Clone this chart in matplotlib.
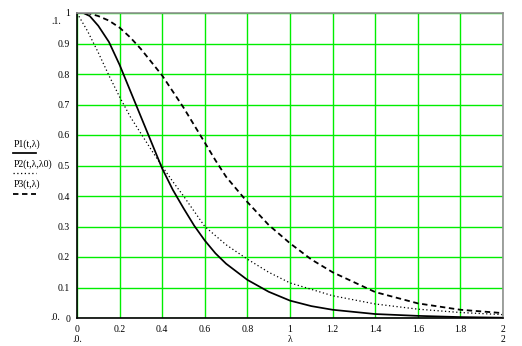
import matplotlib
matplotlib.use("Agg")
import matplotlib.pyplot as plt
from matplotlib.lines import Line2D

# ---- data ----
lam1 = [0, 0.03, 0.06, 0.1, 0.15, 0.2, 0.25, 0.3, 0.35, 0.4, 0.45, 0.5, 0.55, 0.6, 0.65,
        0.7, 0.8, 0.9, 1.0, 1.1, 1.2, 1.4, 1.6, 1.8, 2.0]
p1 = [1.0, 1.0, 0.99, 0.958, 0.905, 0.83, 0.745, 0.66, 0.575, 0.49, 0.42, 0.36, 0.303, 0.254, 0.212,
      0.178, 0.125, 0.086, 0.057, 0.039, 0.027, 0.013, 0.007, 0.003, 0.001]

lam2 = [0, 0.05, 0.1, 0.15, 0.2, 0.25, 0.3, 0.35, 0.4, 0.45, 0.5, 0.6, 0.7, 0.8, 0.9,
        1.0, 1.2, 1.4, 1.6, 1.8, 2.0]
p2 = [1.0, 0.94, 0.87, 0.795, 0.725, 0.66, 0.605, 0.55, 0.497, 0.447, 0.40, 0.30, 0.24, 0.193, 0.15,
      0.115, 0.073, 0.046, 0.029, 0.018, 0.011]

lam3 = [0, 0.05, 0.1, 0.15, 0.2, 0.25, 0.3, 0.4, 0.5, 0.6, 0.65, 0.7, 0.8, 0.9, 1.0, 1.1,
        1.2, 1.4, 1.6, 1.8, 2.0]
p3 = [1.0, 1.0, 0.99, 0.975, 0.952, 0.92, 0.882, 0.795, 0.69, 0.575, 0.517, 0.463, 0.38, 0.305, 0.245, 0.192,
      0.15, 0.085, 0.048, 0.027, 0.016]

xticks = [0, 0.2, 0.4, 0.6, 0.8, 1, 1.2, 1.4, 1.6, 1.8, 2]
xticklabels = ["0", "0.2", "0.4", "0.6", "0.8", "1", "1.2", "1.4", "1.6", "1.8", "2"]
yticks = [0, 0.1, 0.2, 0.3, 0.4, 0.5, 0.6, 0.7, 0.8, 0.9, 1]
yticklabels = ["0", "0.1", "0.2", "0.3", "0.4", "0.5", "0.6", "0.7", "0.8", "0.9", "1"]
legend_labels = ["P1(t,λ)", "P2(t,λ,λ0)", "P3(t,λ)"]

FONT = "Liberation Serif"
FS = 7

fig = plt.figure(figsize=(5.22, 3.46), dpi=100)
ax = fig.add_axes([77 / 522, 1 - 318 / 346, (503 - 77) / 522, (318 - 13) / 346])
ax.set_xlim(0, 2)
ax.set_ylim(0, 1)

ax.set_xticks(xticks)
ax.set_xticklabels(xticklabels, fontfamily=FONT, fontsize=FS)
ax.set_yticks(yticks)
ax.set_yticklabels(yticklabels, fontfamily=FONT, fontsize=FS)
ax.tick_params(length=0, pad=5)
ax.grid(True, color="#00ee00", lw=1.0)
ax.set_axisbelow(True)

for s in ("left", "bottom"):
    ax.spines[s].set_color("black")
    ax.spines[s].set_linewidth(1.2)
for s in ("top", "right"):
    ax.spines[s].set_color("#909090")
    ax.spines[s].set_linewidth(1.2)

ax.plot(lam1, p1, color="black", lw=1.25, solid_joinstyle="round")
ax.plot(lam2, p2, color="black", lw=0.9, linestyle=(0, (1, 2)))
ax.plot(lam3, p3, color="black", lw=1.3, linestyle=(0, (3, 2)))

# legend (Mathcad style: label above sample line)
ly_text = [144, 164, 184]
ly_line = [153, 173, 194]
styles = [dict(lw=1.25, ls="-"), dict(lw=0.9, ls=(0, (1, 2))), dict(lw=1.3, ls=(0, (3, 2)))]
for lab, yt, yl, st in zip(legend_labels, ly_text, ly_line, styles):
    fig.text(14 / 522, 1 - yt / 346, lab, fontfamily=FONT, fontsize=FS, va="center", ha="left")
    fig.add_artist(Line2D([13 / 522, 36 / 522], [1 - yl / 346, 1 - yl / 346],
                          color="black", transform=fig.transFigure, **st))

# Mathcad limit / axis labels
fig.text(56 / 522, 1 - 22 / 346, ".1.", fontfamily=FONT, fontsize=FS, ha="center", va="center")
fig.text(55 / 522, 1 - 317 / 346, ".0.", fontfamily=FONT, fontsize=FS, ha="center", va="center")
fig.text(77.5 / 522, 1 - 340 / 346, ".0.", fontfamily=FONT, fontsize=FS, ha="center", va="center")
fig.text(290 / 522, 1 - 339 / 346, "λ", fontfamily=FONT, fontsize=FS, ha="center", va="center")
fig.text(503 / 522, 1 - 339 / 346, "2", fontfamily=FONT, fontsize=FS, ha="center", va="center")

fig.savefig("out.png", dpi=100)
